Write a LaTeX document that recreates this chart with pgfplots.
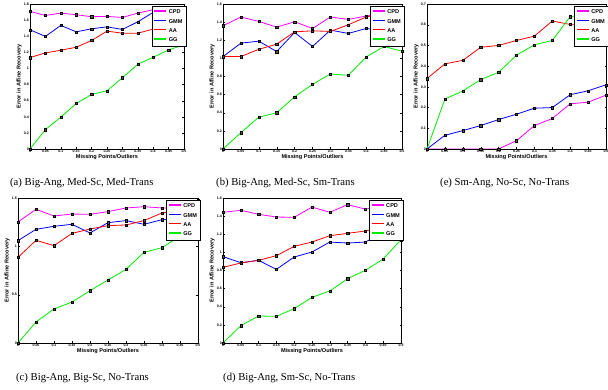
\documentclass[border=0pt]{standalone}
\usepackage{pgfplots}
\usepackage{pgfplotstable}
\pgfplotsset{compat=1.18}
\usepackage{fontspec}
\setmainfont{Liberation Sans}
\newfontfamily\capfont{Liberation Serif}

\definecolor{cpd}{rgb}{1,0,1}
\definecolor{gmm}{rgb}{0,0,1}
\definecolor{aa}{rgb}{1,0,0}
\definecolor{gg}{rgb}{0,0.92,0}

\pgfplotstableread{
x cpd gmm aa gg
0 1.708 1.480 1.135 0
0.05 1.658 1.397 1.193 0.241
0.1 1.687 1.534 1.226 0.395
0.15 1.667 1.455 1.263 0.565
0.2 1.642 1.492 1.347 0.677
0.25 1.646 1.517 1.463 0.723
0.3 1.633 1.484 1.438 0.885
0.35 1.687 1.579 1.438 1.052
0.4 1.729 1.696 1.488 1.139
0.45 1.730 1.650 1.600 1.230
0.5 1.700 1.670 1.610 1.293
}\tabA

\pgfplotstableread{
x cpd gmm aa gg
0 1.360 1.020 1.020 0
0.05 1.456 1.168 1.020 0.181
0.1 1.408 1.190 1.100 0.351
0.15 1.345 1.075 1.157 0.400
0.2 1.404 1.286 1.293 0.576
0.25 1.330 1.131 1.304 0.713
0.3 1.456 1.312 1.297 0.828
0.35 1.430 1.275 1.371 0.813
0.4 1.467 1.330 1.456 1.016
0.45 1.500 1.310 1.500 1.131
0.5 1.470 1.310 1.470 1.079
}\tabB

\pgfplotstableread{
x cpd gmm aa gg
0 0 0 0.340 0
0.05 0 0.066 0.411 0.241
0.1 0 0.089 0.428 0.280
0.15 0 0.113 0.491 0.335
0.2 0 0.142 0.500 0.370
0.25 0.040 0.168 0.524 0.453
0.3 0.113 0.197 0.545 0.503
0.35 0.147 0.200 0.618 0.524
0.4 0.218 0.262 0.601 0.639
0.45 0.226 0.281 0.595 0.648
0.5 0.260 0.310 0.606 0.650
}\tabE

\pgfplotstableread{
x cpd gmm aa gg
0 1.252 1.059 0.886 0
0.05 1.383 1.176 1.062 0.217
0.1 1.314 1.207 1.007 0.352
0.15 1.334 1.228 1.134 0.424
0.2 1.331 1.138 1.179 0.541
0.25 1.359 1.245 1.214 0.652
0.3 1.397 1.266 1.221 0.762
0.35 1.410 1.228 1.266 0.938
0.4 1.397 1.276 1.345 0.986
0.45 1.390 1.280 1.372 1.107
0.5 1.480 1.440 1.386 1.248
}\tabC

\pgfplotstableread{
x cpd gmm aa gg
0 1.442 0.953 0.835 0
0.05 1.464 0.886 0.883 0.191
0.1 1.420 0.912 0.912 0.298
0.15 1.390 0.813 0.964 0.294
0.2 1.387 0.949 1.067 0.379
0.25 1.500 1.004 1.114 0.504
0.3 1.442 1.114 1.184 0.574
0.35 1.526 1.103 1.210 0.710
0.4 1.478 1.114 1.236 0.802
0.45 1.510 1.225 1.280 0.927
0.5 1.515 1.342 1.320 1.140
}\tabD

\pgfplotsset{
  sub/.style={
    scale only axis,
    xmin=0, xmax=0.5, ymin=0,
    xtick={0,0.05,0.1,0.15,0.2,0.25,0.3,0.35,0.4,0.45,0.5},
    xticklabels={0,0.05,0.1,0.15,0.2,0.25,0.3,0.35,0.4,0.45,0.5},
    /pgf/number format/assume math mode=true,
    tick label style={font=\fontsize{3.6}{4}\selectfont\bfseries, inner sep=1pt},
    label style={font=\fontsize{5.6}{6}\selectfont\bfseries},
    xlabel={Missing Points/Outliers},
    ylabel={Error in Affine Recovery},
    xlabel style={yshift=2.5bp},
    ylabel style={yshift=-2.5bp},
    tick align=inside,
    major tick length=1.5bp,
    tick style={black, line width=0.3bp},
    axis line style={line width=0.5bp},
    legend style={
      at={(rel axis cs:1.015,0.985)}, anchor=north east,
      font=\fontsize{5.6}{6}\selectfont\bfseries,
      draw=black, line width=0.8bp, inner sep=1.4bp,
      row sep=0bp, fill=white,
    },
    legend cell align=left,
    legend image code/.code={%
      \draw[#1, mark=none, line width=1.3bp] plot coordinates {(0bp,1.8bp) (12bp,1.8bp)};},
    every axis plot/.append style={line width=0.8bp, mark=square*, mark size=1.1bp,
      mark options={draw=black, fill=black!75!yellow, line width=0.3bp}},
  }
}

\newcommand{\fourplots}[1]{%
  \addplot[color=cpd] table[x=x, y=cpd] {#1};
  \addplot[color=gmm] table[x=x, y=gmm] {#1};
  \addplot[color=aa] table[x=x, y=aa] {#1};
  \addplot[color=gg] table[x=x, y=gg] {#1};
  \legend{CPD, GMM, AA, GG}%
}

\begin{document}
\begin{tikzpicture}
\useasboundingbox (0,0) rectangle (608bp,390bp);

% (a)
\begin{axis}[sub, at={(30bp,241bp)}, anchor=south west, width=154bp, height=145bp,
  ymax=1.8, ytick={0,0.2,0.4,0.6,0.8,1,1.2,1.4,1.6,1.8}]
\fourplots{\tabA}
\end{axis}

% (b)
\begin{axis}[sub, at={(223bp,241bp)}, anchor=south west, width=179bp, height=145bp,
  ymax=1.6, ytick={0,0.2,0.4,0.6,0.8,1,1.2,1.4,1.6}]
\fourplots{\tabB}
\end{axis}

% (e)
\begin{axis}[sub, at={(427bp,241bp)}, anchor=south west, width=179bp, height=145bp,
  ymax=0.7, ytick={0,0.1,0.2,0.3,0.4,0.5,0.6,0.7}]
\fourplots{\tabE}
\end{axis}

% (c)
\begin{axis}[sub, at={(18bp,47bp)}, anchor=south west, width=180bp, height=145bp,
  ymax=1.5, ytick={0,0.5,1,1.5}]
\fourplots{\tabC}
\end{axis}

% (d)
\begin{axis}[sub, at={(223bp,47bp)}, anchor=south west, width=178bp, height=145bp,
  ymax=1.6, ytick={0,0.2,0.4,0.6,0.8,1,1.2,1.4,1.6}]
\fourplots{\tabD}
\end{axis}

\node[anchor=west, inner sep=0pt, font=\capfont\fontsize{10.7}{12}\selectfont] at (10bp,207bp) {(a) Big-Ang, Med-Sc, Med-Trans};
\node[anchor=west, inner sep=0pt, font=\capfont\fontsize{10.7}{12}\selectfont] at (216bp,207bp) {(b) Big-Ang, Med-Sc, Sm-Trans};
\node[anchor=west, inner sep=0pt, font=\capfont\fontsize{10.7}{12}\selectfont] at (440bp,207bp) {(e) Sm-Ang, No-Sc, No-Trans};
\node[anchor=west, inner sep=0pt, font=\capfont\fontsize{10.7}{12}\selectfont] at (16bp,12bp) {(c) Big-Ang, Big-Sc, No-Trans};
\node[anchor=west, inner sep=0pt, font=\capfont\fontsize{10.7}{12}\selectfont] at (223bp,12bp) {(d) Big-Ang, Sm-Sc, No-Trans};
\end{tikzpicture}
\end{document}
